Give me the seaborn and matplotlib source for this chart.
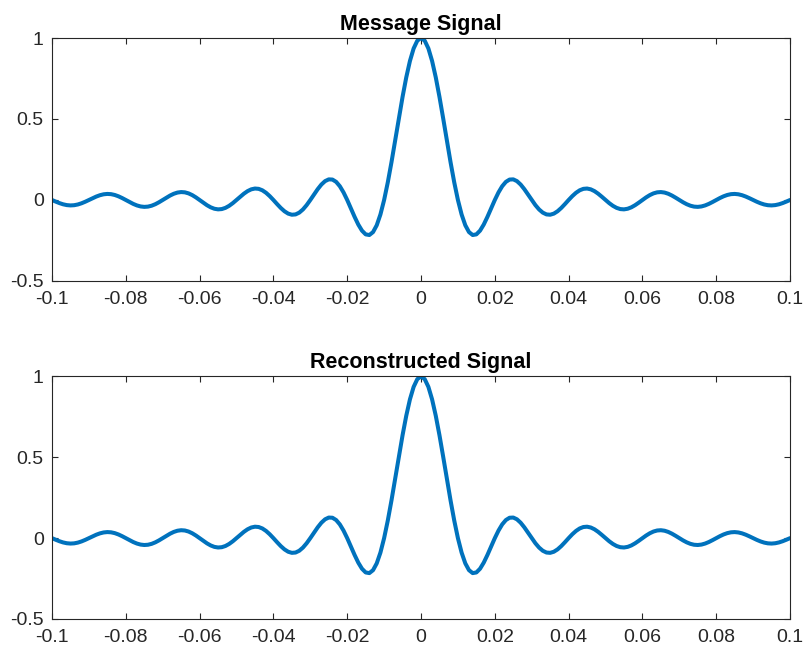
import numpy as np
import pandas as pd
import matplotlib
matplotlib.use("Agg")
import matplotlib.pyplot as plt
import seaborn as sns

# time samples (s), step 0.001 from -0.1 to 0.1
t = np.round(np.arange(-100, 101) * 0.001, 4)

# values (same curve in both panels)
y_message = [
    0.0, -0.00994, -0.01909, -0.02655, -0.03153, -0.03351, -0.03221, -0.02769, -0.02034, -0.01081,
    0.0, 0.01105, 0.02126, 0.02960, 0.03520, 0.03745, 0.03604, 0.03103, 0.02282, 0.01214,
    0.0, -0.01245, -0.02399, -0.03344, -0.03983, -0.04244, -0.04091, -0.03528, -0.02599, -0.01385,
    0.0, 0.01426, 0.02751, 0.03844, 0.04587, 0.04897, 0.04730, 0.04088, 0.03018, 0.01613,
    0.0, -0.01667, -0.03226, -0.04518, -0.05406, -0.05787, -0.05606, -0.04859, -0.03598, -0.01929,
    0.0, 0.02007, 0.03898, 0.05479, 0.06581, 0.07074, 0.06880, 0.05989, 0.04455, 0.02399,
    0.0, -0.02522, -0.04924, -0.06960, -0.08409, -0.09095, -0.08904, -0.07804, -0.05847, -0.03173,
    0.0, 0.03392, 0.06682, 0.09538, 0.11644, 0.12732, 0.12614, 0.11196, 0.08504, 0.04684,
    0.0, -0.05177, -0.10394, -0.15148, -0.18921, -0.21221, -0.21624, -0.19809, -0.15592, -0.08942,
    0.0, 0.10929, 0.23387, 0.36788, 0.50455, 0.63662, 0.75683, 0.85839, 0.93549, 0.98363,
    1.0,
    0.98363, 0.93549, 0.85839, 0.75683, 0.63662, 0.50455, 0.36788, 0.23387, 0.10929, 0.0,
    -0.08942, -0.15592, -0.19809, -0.21624, -0.21221, -0.18921, -0.15148, -0.10394, -0.05177, 0.0,
    0.04684, 0.08504, 0.11196, 0.12614, 0.12732, 0.11644, 0.09538, 0.06682, 0.03392, 0.0,
    -0.03173, -0.05847, -0.07804, -0.08904, -0.09095, -0.08409, -0.06960, -0.04924, -0.02522, 0.0,
    0.02399, 0.04455, 0.05989, 0.06880, 0.07074, 0.06581, 0.05479, 0.03898, 0.02007, 0.0,
    -0.01929, -0.03598, -0.04859, -0.05606, -0.05787, -0.05406, -0.04518, -0.03226, -0.01667, 0.0,
    0.01613, 0.03018, 0.04088, 0.04730, 0.04897, 0.04587, 0.03844, 0.02751, 0.01426, 0.0,
    -0.01385, -0.02599, -0.03528, -0.04091, -0.04244, -0.03983, -0.03344, -0.02399, -0.01245, 0.0,
    0.01214, 0.02282, 0.03103, 0.03604, 0.03745, 0.03520, 0.02960, 0.02126, 0.01105, 0.0,
    -0.01081, -0.02034, -0.02769, -0.03221, -0.03351, -0.03153, -0.02655, -0.01909, -0.00994, 0.0,
]
y_recon = list(y_message)

titles = ["Message Signal", "Reconstructed Signal"]
x_ticks = [-0.1, -0.08, -0.06, -0.04, -0.02, 0, 0.02, 0.04, 0.06, 0.08, 0.1]
x_ticklabels = ["-0.1", "-0.08", "-0.06", "-0.04", "-0.02", "0", "0.02", "0.04", "0.06", "0.08", "0.1"]
y_ticks = [-0.5, 0, 0.5, 1]
y_ticklabels = ["-0.5", "0", "0.5", "1"]

sns.set_theme(style="white")
plt.rcParams["font.family"] = ["Liberation Sans", "DejaVu Sans"]

fig = plt.figure(figsize=(8.05, 6.53), dpi=100)
positions = [
    [0.0646, 0.5697, 0.9168, 0.3721],
    [0.0646, 0.0521, 0.9168, 0.3714],
]
series = [y_message, y_recon]
edge = "#262626"
for pos, ys, title in zip(positions, series, titles):
    ax = fig.add_axes(pos)
    df = pd.DataFrame({"t": t, "y": ys})
    sns.lineplot(data=df, x="t", y="y", ax=ax, color="#0072BD", linewidth=2.9,
                 solid_joinstyle="round", solid_capstyle="round")
    ax.set_xlim(-0.1, 0.1)
    ax.set_ylim(-0.5, 1)
    ax.set_xticks(x_ticks)
    ax.set_xticklabels(x_ticklabels)
    ax.set_yticks(y_ticks)
    ax.set_yticklabels(y_ticklabels)
    ax.set_xlabel("")
    ax.set_ylabel("")
    ax.tick_params(direction="in", length=4, width=0.8, colors=edge, labelsize=14,
                   labelcolor="#262626", top=True, right=True, bottom=True, left=True)
    ax.tick_params(axis="x", pad=7)
    ax.tick_params(axis="y", pad=6)
    for s in ax.spines.values():
        s.set_visible(True)
        s.set_color(edge)
        s.set_linewidth(0.8)
    ax.set_title(title, fontsize=15.5, fontweight="bold", pad=6, color="black")

fig.savefig("out.png", dpi=100)
